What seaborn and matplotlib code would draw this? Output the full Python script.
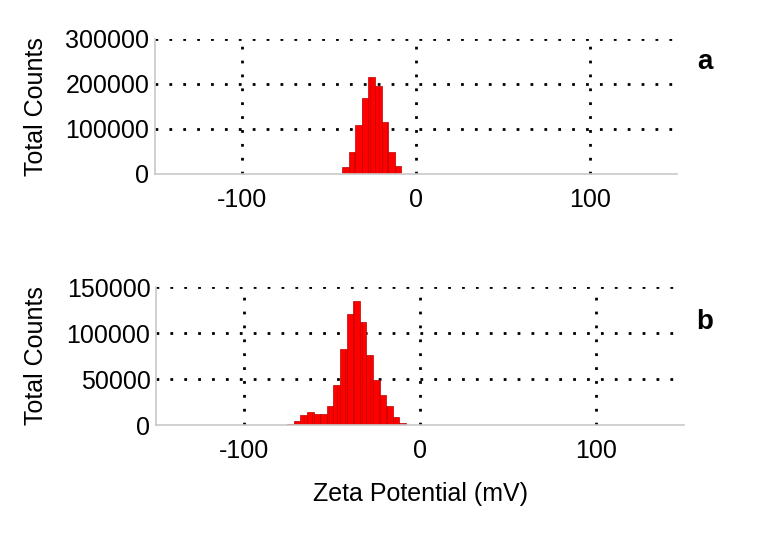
import numpy as np
import matplotlib
matplotlib.use("Agg")
import matplotlib.pyplot as plt
import matplotlib.ticker as mticker
import seaborn as sns

sns.set_style("white")
plt.rcParams["font.family"] = ["Liberation Sans", "DejaVu Sans"]
plt.rcParams["font.size"] = 18
plt.rcParams["hatch.linewidth"] = 0.4
plt.rcParams["axes.unicode_minus"] = False
plt.rcParams["text.color"] = "black"
plt.rcParams["axes.labelcolor"] = "black"

# ---------------------------
# Data
# ---------------------------
bin_width = 3.77

zeta_a = [-40.5, -36.7, -33.0, -29.2, -25.4, -21.6, -17.9, -14.1, -10.3]
counts_a = [14700, 47800, 108800, 169000, 215000, 195000, 116000, 49000, 18000]

zeta_b = [-73.6, -69.9, -66.1, -62.4, -58.6, -54.9, -51.1, -47.4, -43.6,
          -39.9, -36.1, -32.4, -28.6, -24.9, -21.1, -17.4, -13.6, -9.9]
counts_b = [1500, 4000, 11000, 13700, 11500, 11500, 21000, 43000, 82800,
            120600, 135000, 112300, 75600, 49300, 33100, 20500, 9000, 2000]

x_major = [-100, 0, 100]
x_minor = [-150, -50, 50, 150]
y_major_a = [0, 100000, 200000, 300000]
y_minor_a = [50000, 150000, 250000]
y_major_b = [0, 50000, 100000, 150000]
y_minor_b = [25000, 75000, 125000]

fig = plt.figure(figsize=(7.62, 5.36), dpi=100)
ax_a = fig.add_axes([0.2034, 0.6754, 0.685, 0.2519])
ax_b = fig.add_axes([0.2047, 0.2070, 0.693, 0.2575])


def draw_panel(ax, zeta, counts, y_major, y_minor, tag, tag_y):
    bw = bin_width
    sns.histplot(x=zeta, weights=counts, binwidth=bw,
                 binrange=(zeta[0] - bw / 2, zeta[-1] + bw / 2),
                 color="#ff0000", alpha=1, edgecolor="#c00000",
                 linewidth=0.5, hatch="||", ax=ax)
    ax.set_xlim(-150, 150)
    ax.set_ylim(0, y_major[-1])
    ax.set_xticks(x_major)
    ax.set_xticks(x_minor, minor=True)
    ax.set_yticks(y_major)
    ax.set_yticks(y_minor, minor=True)
    ax.yaxis.set_major_formatter(mticker.FormatStrFormatter("%d"))

    # dotted grid at major ticks (not on the zero line)
    for v in y_major[1:]:
        ax.axhline(v, color="black", lw=2.0, ls=(0, (1, 4.0)), zorder=0.8)
    for v in x_major:
        ax.axvline(v, color="black", lw=2.0, ls=(0, (1, 4.0)), zorder=0.8)

    for s in ["top", "right"]:
        ax.spines[s].set_visible(False)
    for s in ["left", "bottom"]:
        ax.spines[s].set_color("#c8c8c8")
        ax.spines[s].set_linewidth(1.2)

    ax.tick_params(axis="both", which="major", length=0, labelsize=18, colors="black")
    ax.tick_params(axis="x", which="major", pad=10)
    ax.tick_params(axis="y", which="major", pad=4)
    ax.tick_params(axis="both", which="minor", length=8, width=1.2,
                   direction="inout", color="#bcbcbc")

    ax.set_ylabel("Total Counts", fontsize=18)
    ax.yaxis.set_label_coords(-0.205, 0.5)
    ax.set_xlabel("")
    fig.text(0.925, tag_y, tag, fontsize=20, fontweight="bold",
             ha="center", va="center")


draw_panel(ax_a, zeta_a, counts_a, y_major_a, y_minor_a, "a", 1 - 62 / 536)
draw_panel(ax_b, zeta_b, counts_b, y_major_b, y_minor_b, "b", 1 - 322 / 536)

ax_b.set_xlabel("Zeta Potential (mV)", fontsize=18, labelpad=14)

fig.savefig("out.png", dpi=100)
